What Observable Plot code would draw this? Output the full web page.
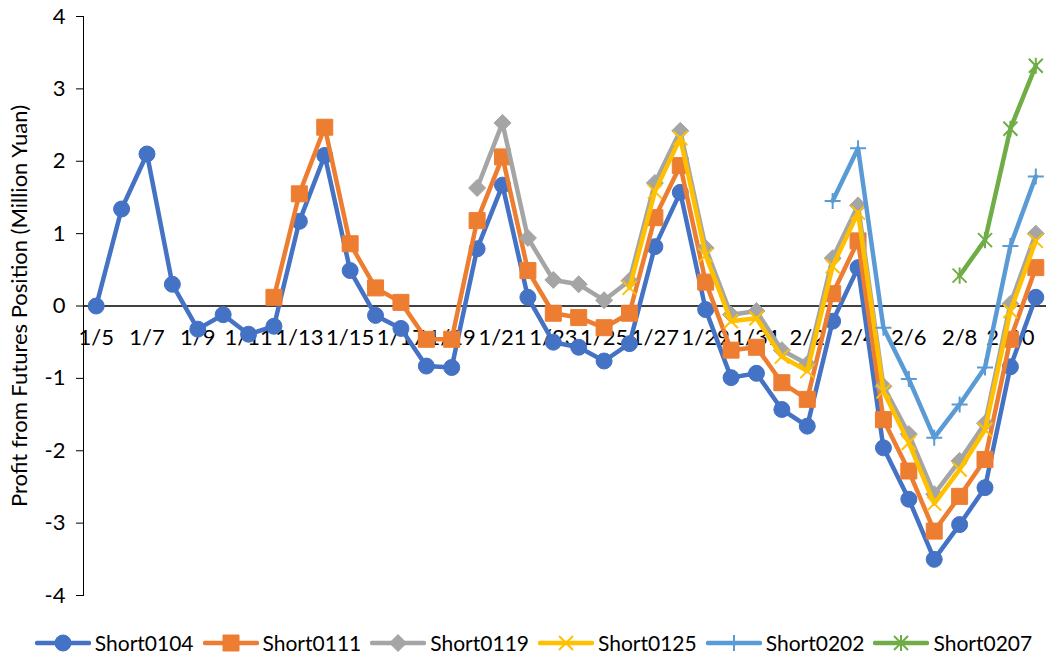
<!DOCTYPE html>
<html>
<head>
<meta charset="utf-8">
<script src="https://cdn.jsdelivr.net/npm/d3@7"></script>
<script src="https://cdn.jsdelivr.net/npm/@observablehq/plot@0.6"></script>
<style>
  html, body { margin: 0; padding: 0; background: #fff; }
  body { width: 1046px; height: 661px; overflow: hidden; font-family: Lato, sans-serif; }
  #legend { display: flex; justify-content: center; align-items: center; padding-left: 21px; margin-top: 20px; font-size: 21px; color: #000; }
  .item { display: flex; align-items: center; margin: 0 4.5px; }
  .item svg { margin-right: 4px; }
</style>
</head>
<body>
<div id="chart"></div>
<div id="legend"></div>
<script>
// ---- data ----
const dates = ["1/5","1/6","1/7","1/8","1/9","1/10","1/11","1/12","1/13","1/14","1/15","1/16","1/17","1/18","1/19","1/20","1/21","1/22","1/23","1/24","1/25","1/26","1/27","1/28","1/29","1/30","1/31","2/1","2/2","2/3","2/4","2/5","2/6","2/7","2/8","2/9","2/10","2/11"];
const tickLabels = ["1/5","1/7","1/9","1/11","1/13","1/15","1/17","1/19","1/21","1/23","1/25","1/27","1/29","1/31","2/2","2/4","2/6","2/8","2/10"];
const yTicks = [-4,-3,-2,-1,0,1,2,3,4];
const seriesNames = ["Short0104","Short0111","Short0119","Short0125","Short0202","Short0207"];
const short0104 = [0,1.34,2.10,0.30,-0.32,-0.12,-0.39,-0.28,1.17,2.08,0.49,-0.13,-0.31,-0.83,-0.85,0.79,1.67,0.12,-0.50,-0.57,-0.76,-0.52,0.82,1.57,-0.05,-0.99,-0.93,-1.43,-1.66,-0.21,0.53,-1.96,-2.67,-3.50,-3.02,-2.51,-0.84,0.12];
const short0111 = [null,null,null,null,null,null,null,0.12,1.55,2.47,0.86,0.25,0.05,-0.46,-0.46,1.18,2.06,0.49,-0.10,-0.16,-0.30,-0.10,1.22,1.94,0.33,-0.61,-0.57,-1.06,-1.29,0.17,0.90,-1.57,-2.28,-3.11,-2.63,-2.12,-0.46,0.53];
const short0119 = [null,null,null,null,null,null,null,null,null,null,null,null,null,null,null,1.63,2.53,0.94,0.36,0.30,0.08,0.35,1.70,2.42,0.80,-0.12,-0.07,-0.61,-0.80,0.66,1.39,-1.11,-1.77,-2.60,-2.14,-1.62,0.03,1.00];
const short0125 = [null,null,null,null,null,null,null,null,null,null,null,null,null,null,null,null,null,null,null,null,null,0.25,1.58,2.32,0.70,-0.21,-0.17,-0.70,-0.90,0.55,1.29,-1.18,-1.89,-2.73,-2.26,-1.71,-0.07,0.90];
const short0202 = [null,null,null,null,null,null,null,null,null,null,null,null,null,null,null,null,null,null,null,null,null,null,null,null,null,null,null,null,null,1.45,2.18,-0.30,-1.01,-1.82,-1.36,-0.85,0.83,1.79];
const short0207 = [null,null,null,null,null,null,null,null,null,null,null,null,null,null,null,null,null,null,null,null,null,null,null,null,null,null,null,null,null,null,null,null,null,null,0.42,0.91,2.45,3.32];
const seriesValues = [short0104, short0111, short0119, short0125, short0202, short0207];
const yLabel = "Profit from Futures Position (Million Yuan)";

// ---- styles ----
const rOf = s => Math.sqrt(s / Math.PI);
const symbols = {
  circle: {draw(c, s) { const r = rOf(s); c.moveTo(r, 0); c.arc(0, 0, r, 0, 2 * Math.PI); }},
  square: {draw(c, s) { const r = rOf(s); c.rect(-r, -r, 2 * r, 2 * r); }},
  diamond: {draw(c, s) { const r = rOf(s); c.moveTo(0, -r); c.lineTo(r, 0); c.lineTo(0, r); c.lineTo(-r, 0); c.closePath(); }},
  x: {draw(c, s) { const r = rOf(s); c.moveTo(-r, -r); c.lineTo(r, r); c.moveTo(r, -r); c.lineTo(-r, r); }},
  plus: {draw(c, s) { const r = rOf(s); c.moveTo(-r, 0); c.lineTo(r, 0); c.moveTo(0, -r); c.lineTo(0, r); }},
  star: {draw(c, s) { const r = rOf(s); c.moveTo(-r, -r); c.lineTo(r, r); c.moveTo(r, -r); c.lineTo(-r, r); c.moveTo(0, -r * 1.15); c.lineTo(0, r * 1.15); }}
};
const styles = [
  {color: "#4472C4", symbol: "circle", r: 8, filled: true},
  {color: "#ED7D31", symbol: "square", r: 8, filled: true},
  {color: "#A5A5A5", symbol: "diamond", r: 8.5, filled: true},
  {color: "#FFC000", symbol: "x", r: 7, filled: false},
  {color: "#5B9BD5", symbol: "plus", r: 8, filled: false},
  {color: "#70AD47", symbol: "star", r: 7, filled: false}
];

const seriesMarks = [];
seriesNames.forEach((name, k) => {
  const rows = dates.map((d, i) => ({date: d, value: seriesValues[k][i], series: name}))
                    .filter(d => d.value !== null);
  const st = styles[k];
  seriesMarks.push(Plot.line(rows, {x: "date", y: "value", stroke: st.color, strokeWidth: 4.5, strokeLinejoin: "round", strokeLinecap: "round"}));
  seriesMarks.push(Plot.dot(rows, {
    x: "date", y: "value", r: st.r, symbol: symbols[st.symbol],
    fill: st.filled ? st.color : "none", stroke: st.color, strokeWidth: st.filled ? 1 : 2
  }));
});

const chart = Plot.plot({
  width: 1046,
  height: 610,
  marginLeft: 83,
  marginRight: 0,
  marginTop: 16,
  marginBottom: 15,
  style: {fontFamily: "Lato, sans-serif", fontSize: "22px", color: "#000", background: "#fff", overflow: "visible"},
  x: {type: "point", domain: dates, range: [83, 1048], padding: 0.5, round: false, axis: null},
  y: {domain: [-4, 4], axis: null},
  marks: [
    Plot.axisY({ticks: yTicks, tickFormat: d => String(d), tickSize: 7, tickPadding: 11, fontSize: 22, stroke: "#000",
      label: yLabel, labelAnchor: "center", labelArrow: "none", labelOffset: 72}),
    Plot.frame({anchor: "left", stroke: "#000", strokeWidth: 1}),
    Plot.text(tickLabels, {x: d => d, y: d => 0, dy: 32, fontSize: 22, fill: "#000", textAnchor: "middle"}),
    Plot.ruleY([0], {stroke: "#000", strokeWidth: 1.5}),
    ...seriesMarks
  ]
});
document.getElementById("chart").appendChild(chart);

// ---- legend ----
const legend = document.getElementById("legend");
seriesNames.forEach((name, k) => {
  const st = styles[k];
  const item = document.createElement("div");
  item.className = "item";
  const p = d3.path();
  symbols[st.symbol].draw(p, Math.PI * st.r * st.r);
  item.innerHTML = `<svg width="56" height="22" viewBox="-28 -11 56 22">
    <line x1="-26" x2="26" y1="0" y2="0" stroke="${st.color}" stroke-width="4.5" stroke-linecap="round"/>
    <path d="${p.toString()}" fill="${st.filled ? st.color : "none"}" stroke="${st.color}" stroke-width="${st.filled ? 1 : 2}"/>
  </svg><span>${name}</span>`;
  legend.appendChild(item);
});
</script>
</body>
</html>
